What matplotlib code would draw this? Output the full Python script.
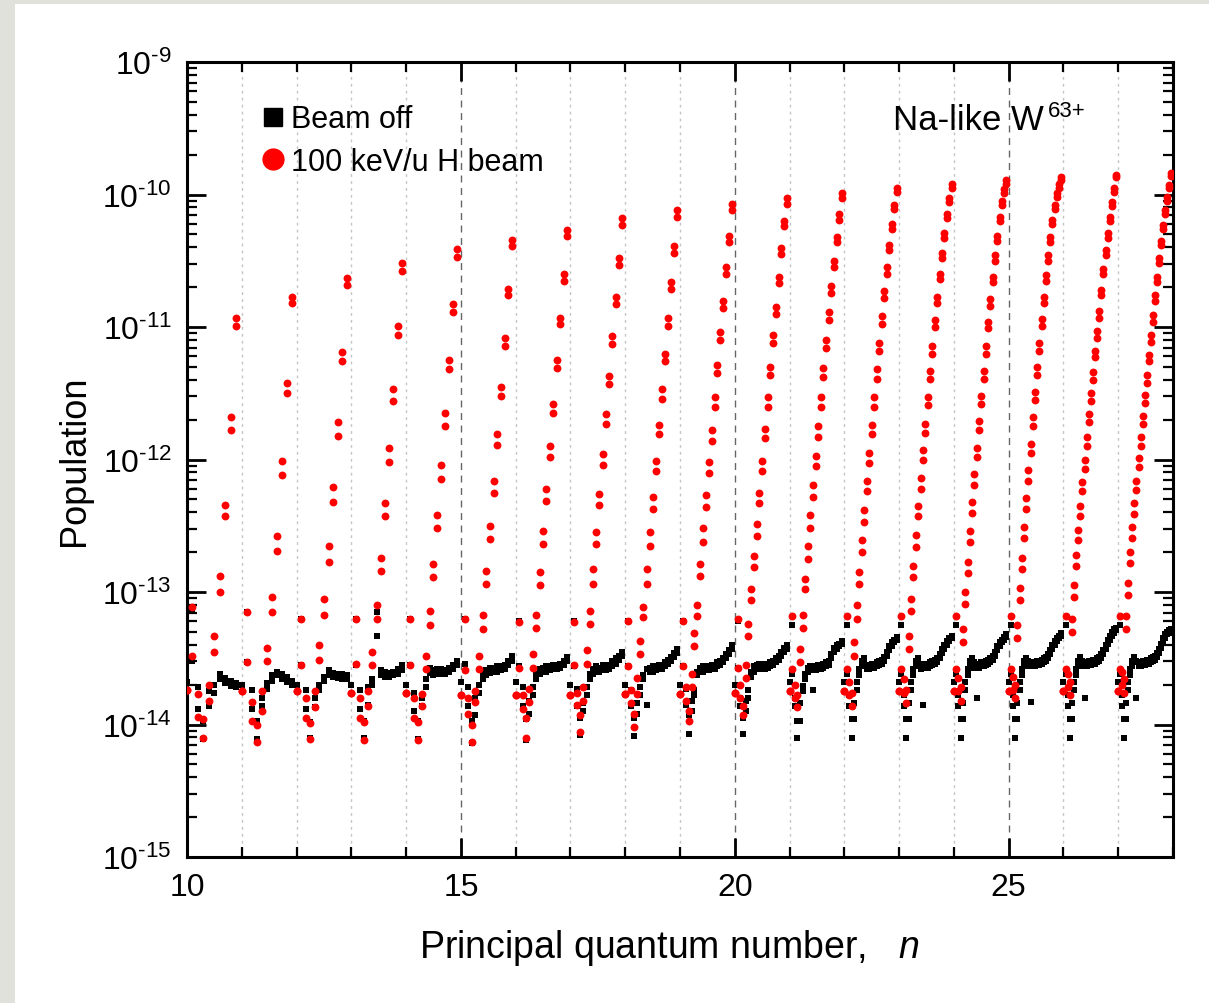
"""
Level populations of Na-like W63+ for n = 10..27, with and without a
100 keV/u H beam.  Each n shell is spread over [n, n+1) by its l value,
two points (j = l -/+ 1/2) for every l.
"""
import numpy as np
import matplotlib
matplotlib.use('Agg')
import matplotlib.pyplot as plt
from matplotlib.lines import Line2D
from matplotlib.patches import Rectangle
from matplotlib.ticker import MultipleLocator, FixedLocator, NullFormatter, FuncFormatter

plt.rcParams['font.family'] = ['Liberation Sans', 'DejaVu Sans']
plt.rcParams['mathtext.fontset'] = 'custom'
plt.rcParams['mathtext.rm'] = 'Liberation Sans'
plt.rcParams['mathtext.it'] = 'Liberation Sans:italic'
plt.rcParams['axes.unicode_minus'] = False

# principal quantum numbers shown
n_levels = list(range(10, 28))
# decades on the population axis
decades = list(range(-15, -8))

# log10(population), beam on, upper / lower member of each l pair (l = 0 .. n-1)
beam_hi = [
    [-13.74, -13.11, -13.77, -13.96, -13.70, -13.33, -12.88, -12.34, -11.68, -10.93],
    [-13.75, -13.15, -13.83, -14.00, -13.75, -13.42, -13.04, -12.58, -12.01, -11.42, -10.77],
    [-13.75, -13.20, -13.80, -13.99, -13.75, -13.40, -13.05, -12.65, -12.21, -11.72, -11.19, -10.63],
    [-13.76, -13.20, -13.80, -13.98, -13.75, -13.45, -13.10, -12.74, -12.33, -11.91, -11.47, -10.99, -10.52],
    [-13.76, -13.20, -13.80, -13.98, -13.77, -13.48, -13.14, -12.79, -12.42, -12.04, -11.65, -11.25, -10.83, -10.41],
    [-13.78, -13.20, -13.80, -14.00, -13.75, -13.48, -13.17, -12.84, -12.50, -12.16, -11.81, -11.45, -11.08, -10.71, -10.34],
    [-13.78, -13.23, -13.78, -13.95, -13.73, -13.47, -13.17, -12.85, -12.54, -12.22, -11.90, -11.58, -11.25, -10.93, -10.60, -10.27],
    [-13.78, -13.23, -13.76, -13.93, -13.72, -13.44, -13.14, -12.83, -12.55, -12.26, -11.96, -11.66, -11.37, -11.07, -10.77, -10.48, -10.18],
    [-13.77, -13.22, -13.74, -13.92, -13.65, -13.37, -13.11, -12.83, -12.55, -12.28, -12.01, -11.74, -11.47, -11.20, -10.93, -10.66, -10.39, -10.12],
    [-13.77, -13.22, -13.72, -13.90, -13.62, -13.31, -13.10, -12.79, -12.52, -12.27, -12.02, -11.78, -11.53, -11.29, -11.04, -10.80, -10.55, -10.31, -10.07],
    [-13.76, -13.20, -13.70, -13.86, -13.55, -13.24, -12.98, -12.73, -12.49, -12.25, -12.01, -11.77, -11.53, -11.30, -11.06, -10.85, -10.62, -10.40, -10.20, -10.03],
    [-13.75, -13.18, -13.70, -13.78, -13.43, -13.17, -12.90, -12.65, -12.42, -12.19, -11.97, -11.75, -11.53, -11.31, -11.10, -10.89, -10.69, -10.50, -10.32, -10.15, -9.99],
    [-13.75, -13.18, -13.68, -13.76, -13.38, -13.10, -12.85, -12.61, -12.38, -12.16, -11.95, -11.74, -11.53, -11.32, -11.12, -10.92, -10.73, -10.55, -10.38, -10.22, -10.08, -9.95],
    [-13.75, -13.18, -13.66, -13.74, -13.33, -13.05, -12.80, -12.57, -12.35, -12.14, -11.93, -11.73, -11.53, -11.33, -11.14, -10.95, -10.77, -10.60, -10.44, -10.29, -10.15, -10.03, -9.92],
    [-13.75, -13.18, -13.65, -13.72, -13.28, -13.00, -12.77, -12.54, -12.32, -12.11, -11.91, -11.71, -11.52, -11.33, -11.14, -10.96, -10.79, -10.62, -10.46, -10.31, -10.17, -10.05, -9.96, -9.89],
    [-13.75, -13.18, -13.64, -13.70, -13.25, -12.97, -12.74, -12.51, -12.29, -12.08, -11.88, -11.68, -11.49, -11.30, -11.12, -10.94, -10.77, -10.61, -10.46, -10.32, -10.19, -10.08, -9.99, -9.92, -9.87],
    [-13.75, -13.18, -13.62, -13.68, -13.20, -12.95, -12.72, -12.53, -12.35, -12.17, -12.00, -11.83, -11.66, -11.50, -11.34, -11.18, -11.03, -10.88, -10.72, -10.56, -10.42, -10.29, -10.17, -10.06, -9.95, -9.85],
    [-13.75, -13.18, -13.60, -13.66, -13.18, -12.93, -12.70, -12.51, -12.33, -12.16, -11.99, -11.83, -11.67, -11.51, -11.36, -11.21, -11.06, -10.91, -10.76, -10.62, -10.48, -10.35, -10.23, -10.12, -10.02, -9.93, -9.84],
]
beam_lo = [
    [-13.74, -13.48, -13.94, -14.10, -13.82, -13.45, -13.00, -12.43, -11.78, -10.99],
    [-13.75, -13.53, -13.97, -14.13, -13.90, -13.52, -13.15, -12.69, -12.12, -11.50, -10.82],
    [-13.75, -13.55, -13.95, -14.11, -13.87, -13.51, -13.17, -12.77, -12.32, -11.82, -11.26, -10.68],
    [-13.76, -13.54, -13.95, -14.12, -13.86, -13.55, -13.20, -12.84, -12.43, -12.02, -11.56, -11.06, -10.58],
    [-13.76, -13.55, -13.95, -14.12, -13.86, -13.58, -13.25, -12.89, -12.52, -12.15, -11.75, -11.32, -10.89, -10.47],
    [-13.78, -13.59, -13.92, -14.13, -13.83, -13.58, -13.28, -12.94, -12.60, -12.25, -11.89, -11.52, -11.14, -10.76, -10.39],
    [-13.78, -13.57, -13.88, -14.10, -13.83, -13.57, -13.27, -12.95, -12.64, -12.31, -11.98, -11.65, -11.31, -10.98, -10.65, -10.31],
    [-13.78, -13.55, -13.85, -14.06, -13.82, -13.54, -13.24, -12.94, -12.64, -12.34, -12.04, -11.73, -11.43, -11.13, -10.83, -10.53, -10.23],
    [-13.77, -13.56, -13.84, -14.02, -13.77, -13.47, -13.19, -12.94, -12.65, -12.37, -12.09, -11.81, -11.54, -11.26, -10.99, -10.71, -10.44, -10.17],
    [-13.77, -13.56, -13.82, -13.97, -13.72, -13.41, -13.18, -12.88, -12.62, -12.36, -12.10, -11.86, -11.60, -11.35, -11.10, -10.86, -10.60, -10.36, -10.12],
    [-13.76, -13.57, -13.80, -13.93, -13.65, -13.33, -13.06, -12.81, -12.58, -12.33, -12.09, -11.84, -11.60, -11.36, -11.12, -10.90, -10.67, -10.45, -10.24, -10.07],
    [-13.75, -13.58, -13.80, -13.87, -13.53, -13.27, -12.98, -12.75, -12.52, -12.28, -12.05, -11.83, -11.60, -11.38, -11.16, -10.95, -10.74, -10.55, -10.36, -10.19, -10.03],
    [-13.75, -13.58, -13.78, -13.86, -13.48, -13.20, -12.94, -12.70, -12.47, -12.24, -12.03, -11.81, -11.60, -11.39, -11.18, -10.98, -10.78, -10.60, -10.42, -10.26, -10.11, -9.98],
    [-13.75, -13.58, -13.76, -13.84, -13.43, -13.14, -12.89, -12.66, -12.43, -12.22, -12.00, -11.80, -11.59, -11.39, -11.20, -11.00, -10.82, -10.64, -10.48, -10.33, -10.18, -10.06, -9.95],
    [-13.75, -13.58, -13.75, -13.82, -13.38, -13.09, -12.86, -12.62, -12.40, -12.19, -11.98, -11.78, -11.58, -11.39, -11.20, -11.01, -10.84, -10.66, -10.50, -10.35, -10.20, -10.08, -9.99, -9.92],
    [-13.75, -13.58, -13.74, -13.80, -13.35, -13.06, -12.83, -12.59, -12.37, -12.16, -11.95, -11.75, -11.55, -11.36, -11.18, -10.99, -10.82, -10.65, -10.50, -10.36, -10.22, -10.11, -10.02, -9.95, -9.89],
    [-13.75, -13.58, -13.72, -13.78, -13.30, -13.04, -12.80, -12.61, -12.43, -12.24, -12.07, -11.90, -11.72, -11.56, -11.40, -11.23, -11.08, -10.93, -10.76, -10.60, -10.46, -10.33, -10.20, -10.09, -9.98, -9.87],
    [-13.75, -13.58, -13.70, -13.76, -13.28, -13.02, -12.78, -12.59, -12.41, -12.23, -12.06, -11.90, -11.73, -11.57, -11.42, -11.26, -11.11, -10.96, -10.80, -10.66, -10.52, -10.38, -10.26, -10.15, -10.05, -9.95, -9.86],
]

# log10(population), beam off
off_hi = [
    [-13.68, -13.13, -13.72, -13.97, -13.75, -13.70, -13.62, -13.65, -13.67, -13.69],
    [-13.70, -13.15, -13.74, -13.97, -13.80, -13.69, -13.63, -13.60, -13.62, -13.64, -13.67],
    [-13.70, -13.20, -13.74, -13.98, -13.80, -13.70, -13.64, -13.59, -13.61, -13.62, -13.62, -13.63],
    [-13.70, -13.20, -13.74, -13.97, -13.72, -13.66, -13.15, -13.59, -13.60, -13.61, -13.60, -13.58, -13.55],
    [-13.70, -13.20, -13.76, -13.97, -13.80, -13.66, -13.57, -13.59, -13.58, -13.58, -13.59, -13.57, -13.55, -13.52],
    [-13.68, -13.20, -13.72, -13.97, -13.80, -13.70, -13.62, -13.59, -13.57, -13.57, -13.56, -13.56, -13.55, -13.52, -13.48],
    [-13.68, -13.22, -13.72, -13.96, -13.82, -13.72, -13.62, -13.58, -13.57, -13.56, -13.56, -13.55, -13.55, -13.54, -13.52, -13.49],
    [-13.70, -13.22, -13.73, -13.95, -13.84, -13.72, -13.62, -13.58, -13.56, -13.57, -13.55, -13.55, -13.55, -13.52, -13.50, -13.48, -13.45],
    [-13.70, -13.22, -13.74, -13.95, -13.84, -13.72, -13.63, -13.58, -13.57, -13.56, -13.56, -13.55, -13.55, -13.53, -13.51, -13.49, -13.46, -13.43],
    [-13.70, -13.22, -13.73, -13.93, -13.82, -13.74, -13.60, -13.57, -13.56, -13.56, -13.56, -13.55, -13.55, -13.53, -13.52, -13.50, -13.47, -13.44, -13.40],
    [-13.70, -13.22, -13.80, -13.95, -13.82, -13.74, -13.60, -13.56, -13.55, -13.54, -13.54, -13.55, -13.54, -13.53, -13.52, -13.50, -13.48, -13.45, -13.42, -13.40],
    [-13.68, -13.25, -13.80, -13.97, -13.84, -13.71, -13.62, -13.57, -13.56, -13.57, -13.56, -13.55, -13.55, -13.54, -13.53, -13.52, -13.47, -13.42, -13.40, -13.39, -13.37],
    [-13.68, -13.25, -13.78, -13.96, -13.84, -13.68, -13.58, -13.52, -13.50, -13.55, -13.55, -13.54, -13.54, -13.53, -13.52, -13.51, -13.49, -13.45, -13.41, -13.38, -13.36, -13.34],
    [-13.68, -13.25, -13.78, -13.96, -13.84, -13.68, -13.58, -13.52, -13.50, -13.54, -13.55, -13.54, -13.54, -13.53, -13.52, -13.51, -13.50, -13.47, -13.43, -13.40, -13.37, -13.35, -13.33],
    [-13.68, -13.25, -13.78, -13.96, -13.84, -13.68, -13.58, -13.52, -13.50, -13.53, -13.54, -13.54, -13.53, -13.53, -13.52, -13.51, -13.50, -13.48, -13.45, -13.41, -13.38, -13.36, -13.34, -13.32],
    [-13.68, -13.25, -13.78, -13.96, -13.84, -13.68, -13.58, -13.52, -13.50, -13.52, -13.53, -13.53, -13.53, -13.52, -13.52, -13.51, -13.50, -13.49, -13.47, -13.44, -13.40, -13.37, -13.35, -13.33, -13.31],
    [-13.68, -13.25, -13.78, -13.96, -13.84, -13.68, -13.58, -13.52, -13.49, -13.52, -13.53, -13.53, -13.52, -13.52, -13.51, -13.51, -13.50, -13.49, -13.47, -13.44, -13.40, -13.36, -13.33, -13.30, -13.28, -13.27],
    [-13.68, -13.25, -13.78, -13.96, -13.84, -13.68, -13.58, -13.52, -13.49, -13.52, -13.53, -13.53, -13.52, -13.52, -13.51, -13.51, -13.50, -13.49, -13.48, -13.46, -13.43, -13.39, -13.35, -13.32, -13.30, -13.29, -13.28],
]
off_lo = [
    [-13.68, -13.52, -13.88, -14.11, -13.86, -13.76, -13.66, -13.69, -13.71, -13.72],
    [-13.70, -13.53, -13.88, -14.11, -13.86, -13.73, -13.67, -13.63, -13.66, -13.68, -13.70],
    [-13.70, -13.55, -13.88, -14.10, -13.87, -13.74, -13.67, -13.63, -13.64, -13.65, -13.66, -13.66],
    [-13.70, -13.55, -13.88, -14.10, -13.85, -13.70, -13.33, -13.63, -13.64, -13.64, -13.63, -13.62, -13.59],
    [-13.70, -13.55, -13.90, -14.11, -13.86, -13.72, -13.61, -13.63, -13.62, -13.62, -13.62, -13.60, -13.58, -13.55],
    [-13.68, -13.54, -13.86, -14.14, -13.93, -13.76, -13.66, -13.63, -13.61, -13.60, -13.60, -13.59, -13.58, -13.55, -13.52],
    [-13.68, -13.56, -13.86, -14.12, -13.92, -13.78, -13.66, -13.62, -13.60, -13.60, -13.59, -13.58, -13.58, -13.57, -13.55, -13.52],
    [-13.70, -13.56, -13.86, -14.08, -13.90, -13.78, -13.66, -13.62, -13.60, -13.60, -13.59, -13.59, -13.58, -13.56, -13.54, -13.51, -13.48],
    [-13.70, -13.56, -13.86, -14.09, -13.92, -13.78, -13.66, -13.85, -13.60, -13.60, -13.59, -13.58, -13.58, -13.56, -13.54, -13.52, -13.49, -13.46],
    [-13.70, -13.56, -13.85, -14.07, -13.90, -13.78, -13.63, -13.60, -13.60, -13.59, -13.59, -13.58, -13.58, -13.56, -13.55, -13.53, -13.50, -13.47, -13.43],
    [-13.70, -13.57, -13.86, -14.07, -13.90, -13.80, -13.64, -13.60, -13.58, -13.58, -13.58, -13.58, -13.57, -13.56, -13.55, -13.53, -13.51, -13.48, -13.45, -13.43],
    [-13.68, -13.62, -13.86, -14.10, -13.97, -13.75, -13.66, -13.60, -13.59, -13.74, -13.59, -13.58, -13.58, -13.57, -13.56, -13.55, -13.50, -13.45, -13.43, -13.41, -13.39],
    [-13.68, -13.62, -13.86, -14.10, -13.96, -13.74, -13.63, -13.56, -13.54, -13.58, -13.58, -13.57, -13.57, -13.56, -13.55, -13.54, -13.52, -13.48, -13.44, -13.41, -13.38, -13.36],
    [-13.68, -13.62, -13.86, -14.10, -13.96, -13.74, -13.63, -13.56, -13.54, -13.58, -13.85, -13.57, -13.57, -13.56, -13.55, -13.54, -13.53, -13.50, -13.46, -13.43, -13.40, -13.37, -13.35],
    [-13.68, -13.62, -13.86, -14.10, -13.96, -13.74, -13.63, -13.56, -13.54, -13.57, -13.80, -13.57, -13.56, -13.56, -13.55, -13.54, -13.53, -13.51, -13.48, -13.44, -13.41, -13.38, -13.36, -13.34],
    [-13.68, -13.62, -13.86, -14.10, -13.96, -13.74, -13.63, -13.56, -13.54, -13.56, -13.83, -13.56, -13.56, -13.55, -13.55, -13.54, -13.53, -13.52, -13.50, -13.47, -13.43, -13.40, -13.37, -13.35, -13.33],
    [-13.68, -13.62, -13.86, -14.10, -13.96, -13.74, -13.63, -13.56, -13.53, -13.56, -13.80, -13.56, -13.55, -13.55, -13.54, -13.54, -13.53, -13.52, -13.50, -13.47, -13.43, -13.39, -13.36, -13.33, -13.31, -13.29],
    [-13.68, -13.62, -13.86, -14.10, -13.96, -13.74, -13.63, -13.56, -13.53, -13.80, -13.56, -13.56, -13.55, -13.55, -13.54, -13.54, -13.53, -13.52, -13.51, -13.49, -13.46, -13.42, -13.38, -13.35, -13.32, -13.31, -13.30],
]

series_labels = ['Beam off', '100 keV/u H beam']


def flatten(hi_rows, lo_rows):
    """x = n + l/n for every (n, l); both members of the l pair share x"""
    xs, ys = [], []
    for n, hi, lo in zip(n_levels, hi_rows, lo_rows):
        assert len(hi) == n and len(lo) == n, n
        x = n + np.arange(n) / n
        xs.append(np.concatenate([x, x]))
        ys.append(10.0 ** np.concatenate([hi, lo]))
    return np.concatenate(xs), np.concatenate(ys)


def decade_label(v, pos):
    # plain hyphen in the exponent, like the original
    e = int(round(np.log10(v)))
    exp = ('\u2010%d' % -e) if e < 0 else '%d' % e
    return r'$\mathregular{10^{%s}}$' % exp


W, H = 1209, 1004
fig = plt.figure(figsize=(W / 100, H / 100), dpi=100)
fig.patch.set_facecolor('#e1e1dc')
fig.add_artist(Rectangle((15 / W, 0), 1, 1 - 5 / H, transform=fig.transFigure,
                         facecolor='white', edgecolor='none', zorder=-5))

ax = fig.add_axes([187 / W, 1 - 858 / H, (1173 - 187) / W, (858 - 63) / H])
ax.set_yscale('log')

x_off, y_off = flatten(off_hi, off_lo)
x_on, y_on = flatten(beam_hi, beam_lo)
ax.scatter(x_off, y_off, marker='s', s=24, c='black', linewidths=0, zorder=3)
ax.scatter(x_on, y_on, marker='o', s=32, c='#ff0000', linewidths=0, zorder=4)

ax.set_xlim(10, 28)
ax.set_ylim(10.0 ** decades[0], 10.0 ** decades[-1])

ax.xaxis.set_major_locator(MultipleLocator(5))
ax.xaxis.set_minor_locator(MultipleLocator(1))
ax.yaxis.set_major_locator(FixedLocator([10.0 ** d for d in decades]))
ax.yaxis.set_minor_locator(FixedLocator([k * 10.0 ** d for d in decades[:-1] for k in range(2, 10)]))
ax.yaxis.set_major_formatter(FuncFormatter(decade_label))
ax.yaxis.set_minor_formatter(NullFormatter())

ax.xaxis.grid(True, which='major', color='#666666', linestyle=(0, (5, 4)), linewidth=1.0)
ax.xaxis.grid(True, which='minor', color='#c4c4c4', linestyle=(0, (2, 3)), linewidth=1.0)
ax.set_axisbelow(True)

ax.tick_params(which='both', direction='in', top=True, right=True, labelsize=23)
ax.tick_params(which='major', length=14, width=2.0, pad=11)
ax.tick_params(which='minor', length=7, width=1.6)
for sp in ax.spines.values():
    sp.set_linewidth(2.2)

ax.set_xlabel('Principal quantum number,   $n$', fontsize=27)
ax.xaxis.set_label_coords((669 - 187) / 986, -0.088)
ax.set_ylabel('Population', fontsize=26, labelpad=7)

handles = [Line2D([], [], marker='s', ls='none', color='black', markersize=13),
           Line2D([], [], marker='o', ls='none', color='#ff0000', markersize=15)]
ax.legend(handles, series_labels, loc='upper left', bbox_to_anchor=(0.062, 0.962),
          frameon=False, fontsize=22, handlelength=0.8, handletextpad=0.2,
          labelspacing=0.4, borderaxespad=0)

na = ax.text(0.716, 0.928, 'Na-like W', transform=ax.transAxes,
             fontsize=25, va='center', ha='left')
ax.annotate('63+', xy=(1, 1), xycoords=na, xytext=(3, 2),
            textcoords='offset points', fontsize=16, va='top', ha='left')

fig.savefig('out.png', dpi=100, facecolor=fig.get_facecolor())
